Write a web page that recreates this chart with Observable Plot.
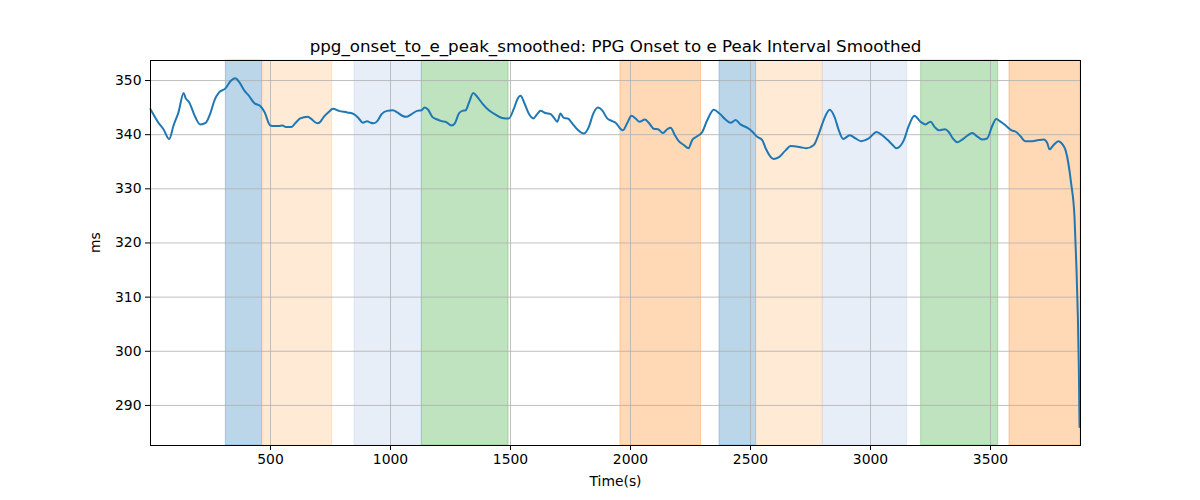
<!DOCTYPE html>
<html>
<head>
<meta charset="utf-8">
<script src="https://cdn.jsdelivr.net/npm/d3@7"></script>
<script src="https://cdn.jsdelivr.net/npm/@observablehq/plot@0.6"></script>
<style>
  html, body { margin: 0; padding: 0; background: #fff; }
  #chart { width: 1200px; height: 500px; }
</style>
</head>
<body>
<div id="chart"></div>
<script>
const chartTitle = "ppg_onset_to_e_peak_smoothed: PPG Onset to e Peak Interval Smoothed";
const xLabel = "Time(s)";
const yLabel = "ms";
const xTicks = [500, 1000, 1500, 2000, 2500, 3000, 3500];
const yTicks = [290, 300, 310, 320, 330, 340, 350];

const times = [0,5,33,54,78,96,117,138,147,161,186,207,230,249,267,286,311,336,353,370,392,408,433,457,475,499,517,533,550,564,586,603,624,655,667,695,708,722,743,760,785,820,847,868,885,903,917,930,945,963,986,1010,1028,1049,1065,1088,1111,1129,1142,1157,1174,1195,1213,1229,1254,1268,1285,1299,1313,1326,1345,1361,1382,1410,1438,1465,1493,1514,1530,1542,1558,1576,1595,1611,1625,1646,1667,1680,1695,1708,1722,1739,1757,1778,1805,1826,1845,1864,1882,1903,1924,1938,1958,1968,1986,2004,2021,2038,2060,2076,2097,2115,2135,2153,2167,2185,2201,2222,2242,2257,2278,2299,2320,2347,2371,2396,2417,2438,2458,2486,2507,2528,2549,2563,2596,2617,2646,2667,2708,2733,2764,2785,2805,2830,2850,2868,2886,2914,2938,2961,2993,3025,3049,3072,3090,3108,3139,3160,3183,3208,3229,3250,3268,3285,3310,3326,3343,3361,3382,3403,3424,3444,3465,3486,3507,3524,3542,3563,3588,3607,3625,3646,3674,3701,3722,3736,3746,3763,3783,3800,3813,3836,3850,3858,3864,3868,3871];
const values = [344.7,344.3,342.2,341.0,339.2,341.7,344.2,347.7,346.7,346.0,343.3,341.9,342.2,343.9,346.4,347.8,348.5,350.0,350.4,349.7,348.1,347.3,345.8,345.3,344.2,341.7,341.6,341.6,341.7,341.4,341.4,342.1,343.0,343.3,343.0,342.1,342.4,343.3,344.2,344.8,344.4,344.1,343.8,343.0,342.2,342.5,342.2,342.1,342.5,343.8,344.4,344.5,344.1,343.5,343.3,343.8,344.4,344.5,345.0,344.6,343.3,342.8,342.5,342.4,341.7,342.1,343.9,344.4,344.5,345.8,347.7,347.0,345.8,344.5,343.7,343.1,343.0,344.8,346.7,347.2,345.8,343.9,343.0,343.8,344.4,344.0,343.8,343.2,342.4,343.9,343.1,343.0,342.1,341.0,340.2,341.4,343.9,345.0,344.5,343.0,342.5,342.2,341.1,340.8,342.1,343.5,343.0,342.4,342.8,342.2,341.1,341.0,340.3,341.0,341.3,339.9,338.8,338.1,337.5,339.0,339.7,340.5,342.7,344.6,343.9,342.8,342.2,342.7,341.9,341.3,340.6,339.6,339.0,337.5,335.5,335.8,337.1,337.9,337.7,337.5,338.1,340.2,342.7,344.6,343.3,340.8,339.2,339.9,339.3,338.8,339.3,340.5,339.9,339.0,338.2,337.5,339.0,341.7,343.5,342.4,341.9,342.4,341.4,340.8,341.0,340.5,339.3,338.6,339.1,339.8,340.3,339.7,339.1,339.3,341.6,342.9,342.4,341.7,340.8,340.5,339.7,338.8,338.8,339.0,339.1,338.5,337.3,338.1,338.8,338.2,337.1,331.0,324.8,315.6,306.4,297.1,286.0];

const bandStart = [314, 467, 850, 1131, 1958, 2371, 2524, 2802, 3211, 3579];
const bandEnd   = [465, 757, 1130, 1492, 2294, 2523, 2801, 3153, 3532, 3875];
const bandKind  = ["A", "B", "C", "D", "E", "A", "B", "C", "D", "E"];

const kindColor = {A: "#1f77b4", B: "#ffbb78", C: "#aec7e8", D: "#2ca02c", E: "#ff7f0e"};

const series = times.map((t, i) => ({t, v: values[i]}));
const bands = bandStart.map((s, i) => ({x1: s, x2: bandEnd[i], kind: bandKind[i]}));

const chart = Plot.plot({
  width: 1200,
  height: 500,
  marginLeft: 150,
  marginRight: 120,
  marginTop: 60,
  marginBottom: 55,
  style: {fontFamily: "DejaVu Sans", fontSize: "13.9px", color: "black", background: "white"},
  x: {domain: [0, 3875], label: null},
  y: {domain: [282.6, 353.7], label: null},
  marks: [
    Plot.rect(bands, {x1: "x1", x2: "x2", fill: d => kindColor[d.kind], fillOpacity: 0.3,
      stroke: d => kindColor[d.kind], strokeOpacity: 0.3, strokeWidth: 1}),
    Plot.gridX(xTicks, {stroke: "#b0b0b0", strokeOpacity: 1, strokeWidth: 0.8}),
    Plot.gridY(yTicks, {stroke: "#b0b0b0", strokeOpacity: 1, strokeWidth: 0.8}),
    Plot.line(series, {x: "t", y: "v", stroke: "#1f77b4", strokeWidth: 2, curve: "monotone-x"}),
    Plot.frame({stroke: "black", strokeWidth: 1}),
    Plot.axisX({ticks: xTicks, tickFormat: d => String(d), tickSize: 5, tickPadding: 4, label: null, fontSize: "13.9px"}),
    Plot.axisY({ticks: yTicks, tickFormat: d => String(d), tickSize: 5, tickPadding: 4, label: null, fontSize: "13.9px"}),
    Plot.text([chartTitle], {frameAnchor: "top", lineAnchor: "middle", dy: -14, fontSize: "16.7px", fill: "black"}),
    Plot.text([xLabel], {frameAnchor: "bottom", lineAnchor: "middle", dy: 36, fontSize: "13.9px", fill: "black"}),
    Plot.text([yLabel], {frameAnchor: "left", lineAnchor: "middle", dx: -55, rotate: -90, fontSize: "13.9px", fill: "black"})
  ]
});
document.getElementById("chart").appendChild(chart);
</script>
</body>
</html>
